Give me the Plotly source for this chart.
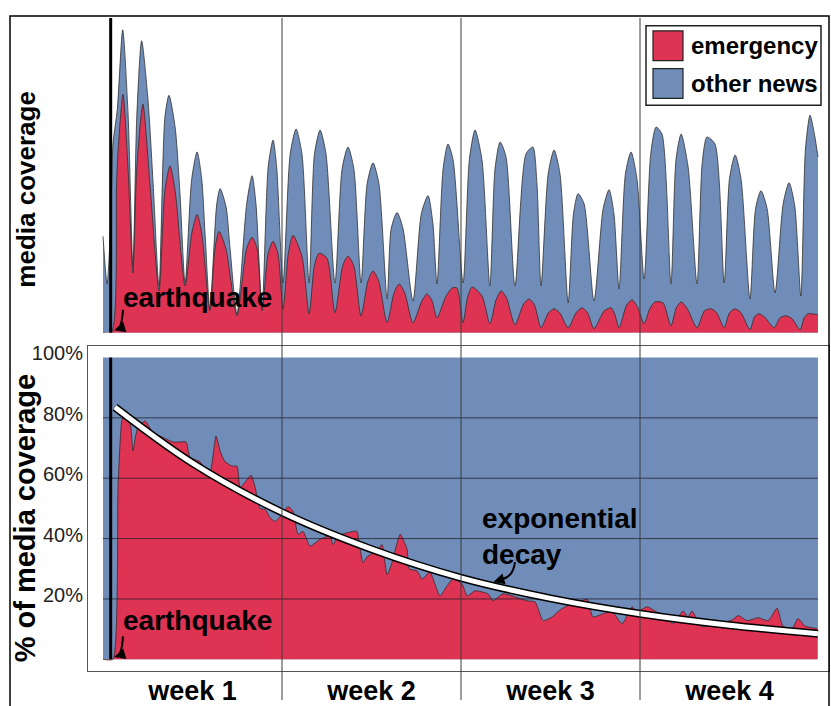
import plotly.graph_objects as go

# ---------------- data ----------------
SERIES_NAMES = ["emergency", "other news"]
RED = "#DE3352"
BLUE = "#6F8DB8"

EARTHQUAKE_DAY = 0.3
WEEK_BOUNDARIES = [7, 14, 21]
WEEK_CENTERS = [3.5, 10.5, 17.5, 24.5]
WEEK_LABELS = ["week 1", "week 2", "week 3", "week 4"]
PCT_TICKS = [20, 40, 60, 80, 100]
PCT_TICK_LABELS = ["20%", "40%", "60%", "80%", "100%"]
GRID_PCT = [20, 40, 60, 80]

# top panel: total media coverage (emergency + other news), arbitrary units
top_total_day = [0.00, 0.16, 0.30, 0.39, 0.56, 0.77, 0.98, 1.17, 1.32, 1.51, 1.76, 1.96, 2.19,
                 2.42, 2.58, 2.82, 3.01, 3.21, 3.47, 3.68, 3.86, 3.99, 4.18, 4.45, 4.58, 4.81,
                 4.97, 5.24, 5.62, 5.83, 5.98, 6.22, 6.46, 6.65, 6.79, 7.04,
                 7.32, 7.55, 7.78, 8.06, 8.27, 8.49, 8.72, 9.07, 9.35, 9.58, 9.81, 10.09,
                 10.33, 10.56, 10.79, 11.11, 11.27, 11.50, 11.73, 12.12, 12.45, 12.71, 12.90,
                 13.06, 13.30, 13.49, 13.69, 14.08,
                 14.33, 14.55, 14.82, 15.13, 15.33, 15.53, 15.76, 16.11, 16.54, 16.81, 16.97,
                 17.13, 17.41, 17.64, 17.87, 18.19, 18.40, 18.58, 18.81, 19.20, 19.56, 19.79,
                 19.98, 20.18, 20.43, 20.65, 20.88, 21.16,
                 21.42, 21.63, 21.86, 22.21, 22.41, 22.61, 22.88, 23.23, 23.43, 23.62, 23.93,
                 24.29, 24.50, 24.72, 24.95, 25.30, 25.52, 25.73, 25.97, 26.28, 26.60, 26.83,
                 27.05, 27.29, 27.47, 27.65, 27.82, 27.96]
top_total = [97, 49, 110, 190, 225, 305, 220, 67, 217, 294, 234, 150, 47,
             217, 239, 207, 140, 50, 155, 182, 155, 100, 24, 130, 145, 127,
             84, 19, 130, 158, 130, 24, 167, 194, 167, 50,
             180, 205, 180, 50, 180, 204, 180, 50, 165, 187, 165, 50,
             150, 171, 150, 34, 105, 121, 105, 32, 120, 138, 110,
             49, 165, 190, 174, 50,
             175, 204, 174, 47, 165, 192, 177, 47, 180, 187, 150,
             47, 160, 184, 160, 30, 120, 140, 130, 32, 125, 144,
             120, 44, 160, 182, 155, 54,
             180, 207, 200, 49, 175, 200, 167, 49, 170, 197, 190,
             50, 155, 179, 155, 34, 125, 143, 125, 40, 130, 151,
             128, 37, 185, 219, 200, 177]

# top panel: emergency coverage
top_emerg_day = [0.00, 0.33, 0.53, 0.59, 0.78, 0.98, 1.17, 1.32, 1.56, 1.84, 2.19, 2.42, 2.62,
                 2.82, 3.21, 3.47, 3.68, 3.86, 4.18, 4.38, 4.54, 4.81, 5.24, 5.62, 5.83, 6.02,
                 6.22, 6.46, 6.65, 6.84, 7.04,
                 7.25, 7.43, 7.78, 8.06, 8.27, 8.45, 8.76, 9.07, 9.38, 9.58, 9.80, 10.09, 10.36,
                 10.56, 10.78, 11.11, 11.38, 11.58, 11.80, 12.12, 12.47, 12.67, 12.87, 13.06,
                 13.40, 13.65, 13.84, 14.08,
                 14.25, 14.43, 14.82, 15.13, 15.37, 15.57, 15.78, 16.11, 16.45, 16.66, 16.87,
                 17.13, 17.42, 17.64, 17.86, 18.19, 18.50, 18.73, 18.95, 19.20, 19.60, 19.87,
                 20.02, 20.18, 20.48, 20.69, 20.90, 21.16,
                 21.38, 21.59, 21.90, 22.21, 22.42, 22.61, 22.85, 23.23, 23.52, 23.78, 24.00,
                 24.29, 24.50, 24.72, 24.95, 25.30, 25.48, 25.66, 25.90, 26.24, 26.48, 26.71,
                 26.95, 27.26, 27.42, 27.57, 27.96]
top_emerg = [0, 0, 150, 184, 240, 165, 60, 165, 230, 148, 42, 143, 168,
             143, 47, 100, 119, 100, 22, 85, 102, 84, 17, 85, 96, 85,
             22, 80, 92, 80, 24,
             80, 98, 77, 19, 68, 80, 75, 20, 68, 77, 68, 17, 52,
             62, 52, 10, 40, 49, 40, 10, 32, 39, 32, 15,
             36, 45, 45, 10,
             35, 46, 37, 9, 33, 42, 35, 8, 29, 34, 28,
             5, 20, 24, 20, 5, 20, 25, 20, 4, 22, 25,
             18, 5, 28, 33, 26, 9,
             24, 31, 30, 7, 25, 31, 24, 5, 22, 24, 20,
             5, 20, 24, 20, 3, 16, 19, 15, 5, 15, 17,
             14, 3, 15, 19, 18]

# bottom panel: emergency share of media coverage (%)
share_day = [0.00, 0.39, 0.59, 0.73, 0.78, 1.06, 1.17, 1.33, 1.64, 1.96, 2.23, 2.74, 3.01, 3.25,
             3.40, 3.79, 3.91, 4.18, 4.42, 4.58, 4.77, 5.05, 5.24, 5.36, 5.63, 5.79, 5.95,
             6.14, 6.34, 6.53, 6.73, 7.00, 7.24, 7.43, 7.63, 7.82, 8.10, 8.49, 8.88, 9.00,
             9.19, 9.58, 9.93, 10.01, 10.17, 10.33, 10.72, 10.91, 11.11, 11.30, 11.62, 11.89,
             11.97, 12.28, 12.48, 12.79, 12.91, 13.18, 13.45, 13.69, 14.04, 14.24, 14.55,
             15.06, 15.25, 15.64, 16.11, 16.58, 16.90, 17.21, 17.56, 17.79, 18.07, 18.73,
             18.93, 19.16, 19.52, 19.91, 20.30, 20.69, 20.88, 21.28, 21.59, 21.98, 22.29,
             22.68, 22.88, 23.03, 23.42, 23.93, 24.60, 24.84, 25.19, 25.62, 26.01, 26.36,
             26.59, 26.95, 27.18, 27.46, 27.92]
share_emerg_pct = [0, 0, 58, 79, 80, 78, 69, 76, 79, 75, 74, 72, 72, 72,
                   67, 65.5, 64, 62, 74, 69, 65.5, 64, 64, 57, 59.5, 61, 57,
                   50, 49.7, 47, 45.7, 48, 50.6, 49, 41.4, 42.4, 37.5, 39.8, 40.8, 38,
                   40.8, 42, 42.4, 38.8, 32, 34, 36, 38, 28, 32, 41.4, 36.5,
                   30, 29.3, 26.6, 29, 26.6, 21, 24.3, 26.6, 25, 21, 22.7,
                   21.7, 19.4, 21.7, 20.7, 19.4, 19, 12.8, 14, 15.8, 17.4, 19.4,
                   20, 14, 15, 15.8, 11.8, 17.4, 15.8, 17.4, 16, 14, 11.8,
                   16, 14, 16, 10.8, 11.8, 13, 14.5, 12.8, 13.8, 12.8, 17,
                   11, 10.2, 13.5, 11, 10.2]

# fitted exponential decay curve
decay_day = [0.47, 3.5, 7.0, 10.5, 14.0, 17.5, 21.0, 24.5, 27.96]
decay_pct = [83.5, 65.0, 48.7, 36.5, 27.0, 20.2, 15.1, 11.3, 8.5]

# ---------------- layout helpers ----------------
W, H = 831, 706
FONT = "Liberation Sans, Arial, sans-serif"


def fx(p):
    return p / W


def fy(p):
    return 1 - p / H


X_RANGE = [-0.587, 28.391]
TOP_RANGE = [0, 317]
PCT_RANGE = [-3.947, 103.947]
X_DOMAIN = [fx(88), fx(829)]
TOP_DOMAIN = [fy(332), fy(15)]
BOT_DOMAIN = [fy(673), fy(345)]

fig = go.Figure()

# ---- top panel ----
fig.add_trace(go.Scatter(x=top_total_day, y=top_total, mode="lines", name=SERIES_NAMES[1],
                         line=dict(color="#2e2e2e", width=0.8, shape="spline", smoothing=0.7),
                         fill="tozeroy", fillcolor=BLUE, xaxis="x", yaxis="y",
                         hoverinfo="skip", showlegend=False))
fig.add_trace(go.Scatter(x=top_emerg_day, y=top_emerg, mode="lines", name=SERIES_NAMES[0],
                         line=dict(color="#2e2e2e", width=0.8, shape="spline", smoothing=0.7),
                         fill="tozeroy", fillcolor=RED, xaxis="x", yaxis="y",
                         hoverinfo="skip", showlegend=False))
fig.add_trace(go.Scatter(x=[EARTHQUAKE_DAY, EARTHQUAKE_DAY], y=TOP_RANGE, mode="lines",
                         line=dict(color="black", width=3), xaxis="x", yaxis="y",
                         hoverinfo="skip", showlegend=False))

# ---- bottom panel ----
fig.add_trace(go.Scatter(x=[share_day[0], top_total_day[-1]], y=[100, 100], mode="lines",
                         line=dict(width=0), fill="tozeroy", fillcolor=BLUE,
                         xaxis="x2", yaxis="y2", hoverinfo="skip", showlegend=False))
fig.add_trace(go.Scatter(x=share_day, y=share_emerg_pct, mode="lines",
                         line=dict(color="#3a2a30", width=0.8, shape="spline", smoothing=0.5),
                         fill="tozeroy", fillcolor=RED, xaxis="x2", yaxis="y2",
                         hoverinfo="skip", showlegend=False))
gx, gy = [], []
for g in GRID_PCT:
    gx += [share_day[0], top_total_day[-1], None]
    gy += [g, g, None]
fig.add_trace(go.Scatter(x=gx, y=gy, mode="lines", line=dict(color="rgba(30,30,40,0.75)", width=1),
                         xaxis="x2", yaxis="y2", hoverinfo="skip", showlegend=False))
fig.add_trace(go.Scatter(x=[EARTHQUAKE_DAY, EARTHQUAKE_DAY], y=[0, 100], mode="lines",
                         line=dict(color="black", width=3), xaxis="x2", yaxis="y2",
                         hoverinfo="skip", showlegend=False))
fig.add_trace(go.Scatter(x=decay_day, y=decay_pct, mode="lines",
                         line=dict(color="black", width=8, shape="spline"),
                         xaxis="x2", yaxis="y2", hoverinfo="skip", showlegend=False))
fig.add_trace(go.Scatter(x=decay_day, y=decay_pct, mode="lines",
                         line=dict(color="white", width=5, shape="spline"),
                         xaxis="x2", yaxis="y2", hoverinfo="skip", showlegend=False))

shapes = []
for wb in WEEK_BOUNDARIES:
    shapes.append(dict(type="line", xref="x2", yref="paper", x0=wb, x1=wb,
                       y0=fy(702), y1=fy(15), line=dict(color="#3a3a3a", width=1), layer="above"))
# outer frame
shapes.append(dict(type="rect", xref="paper", yref="paper", x0=fx(10), x1=fx(829),
                   y0=-0.02, y1=fy(13), line=dict(color="black", width=1.5)))
# custom legend
shapes.append(dict(type="rect", xref="paper", yref="paper", x0=fx(646), x1=fx(821),
                   y0=fy(103), y1=fy(23), fillcolor="white",
                   line=dict(color="#222", width=1.5), layer="above"))
legend_colors = [RED, BLUE]
legend_rows = [(28, 58), (66, 96)]
annotations = []
for name, col, (t, b) in zip(SERIES_NAMES, legend_colors, legend_rows):
    shapes.append(dict(type="rect", xref="paper", yref="paper", x0=fx(653), x1=fx(683),
                       y0=fy(b), y1=fy(t), fillcolor=col,
                       line=dict(color="#222", width=1.2), layer="above"))
    annotations.append(dict(xref="paper", yref="paper", x=fx(689), y=fy((t + b) / 2),
                            text=name, showarrow=False, xanchor="left", yanchor="middle",
                            font=dict(family=FONT, size=24, color="black", weight="bold")))

# axis titles
annotations.append(dict(xref="paper", yref="paper", x=fx(26), y=fy(188), text="media coverage",
                        textangle=-90, showarrow=False, xanchor="center", yanchor="middle",
                        font=dict(family=FONT, size=26, color="black", weight="bold")))
annotations.append(dict(xref="paper", yref="paper", x=fx(25), y=fy(519), text="% of media coverage",
                        textangle=-90, showarrow=False, xanchor="center", yanchor="middle",
                        font=dict(family=FONT, size=29, color="black", weight="bold")))

# earthquake labels + curved arrows
bold = dict(family=FONT, size=28, color="black", weight="bold")
annotations.append(dict(xref="x", yref="y", x=0.72, y=35, text="earthquake", showarrow=False,
                        xanchor="left", yanchor="middle", font=bold))
annotations.append(dict(xref="x2", yref="y2", x=0.72, y=12.8, text="earthquake", showarrow=False,
                        xanchor="left", yanchor="middle", font=bold))
annotations.append(dict(xref="x2", yref="y2", x=14.74, y=40.8, text="exponential<br>decay",
                        showarrow=False, xanchor="left", yanchor="middle", align="left",
                        font=bold))

curved_arrows = [
    # (xref, yref, tail, control, end, head)
    ("x", "y", (0.78, 23), (0.74, 6), (0.58, 4), (0.44, 2.5)),
    ("x2", "y2", (0.78, 7.6), (0.74, 2.0), (0.58, 1.3), (0.44, 0.8)),
    ("x2", "y2", (16.11, 32.2), (16.05, 27.5), (15.62, 26.6), (15.27, 25.6)),
]
for xr, yr, (x0, y0), (cx, cy), (x1, y1), (hx, hy) in curved_arrows:
    shapes.append(dict(type="path", xref=xr, yref=yr,
                       path=f"M {x0},{y0} Q {cx},{cy} {x1},{y1}",
                       line=dict(color="black", width=2), layer="above"))
    annotations.append(dict(xref=xr, yref=yr, x=hx, y=hy, ax=10, ay=-3,
                            text="", showarrow=True, arrowhead=2, arrowsize=1.1, arrowwidth=2,
                            arrowcolor="black", standoff=0))

fig.update_layout(
    width=W, height=H, margin=dict(l=0, r=0, t=0, b=0),
    paper_bgcolor="white", plot_bgcolor="white", showlegend=False,
    font=dict(family=FONT, color="black"),
    xaxis=dict(domain=X_DOMAIN, range=X_RANGE, anchor="y", visible=False),
    yaxis=dict(domain=TOP_DOMAIN, range=TOP_RANGE, anchor="x", visible=False),
    xaxis2=dict(domain=X_DOMAIN, range=X_RANGE, anchor="y2", showline=True, mirror=True,
                linecolor="#555", linewidth=1, showgrid=False, zeroline=False,
                tickmode="array", tickvals=WEEK_CENTERS, ticktext=WEEK_LABELS, ticks="",
                ticklabelstandoff=-5,
                tickfont=dict(family=FONT, size=27, color="black", weight="bold")),
    yaxis2=dict(domain=BOT_DOMAIN, range=PCT_RANGE, anchor="x2", showline=True, mirror=True,
                linecolor="#555", linewidth=1, showgrid=False, zeroline=False,
                tickmode="array", tickvals=PCT_TICKS, ticktext=PCT_TICK_LABELS, ticks="",
                ticklabelshift=-4,
                tickfont=dict(family=FONT, size=20, color="#222")),
    shapes=shapes, annotations=annotations,
)

fig.write_html("out.html", config={"displayModeBar": False},
               post_script="document.body.style.margin='0';document.body.style.padding='0';"
                           "document.body.style.overflow='hidden';")
